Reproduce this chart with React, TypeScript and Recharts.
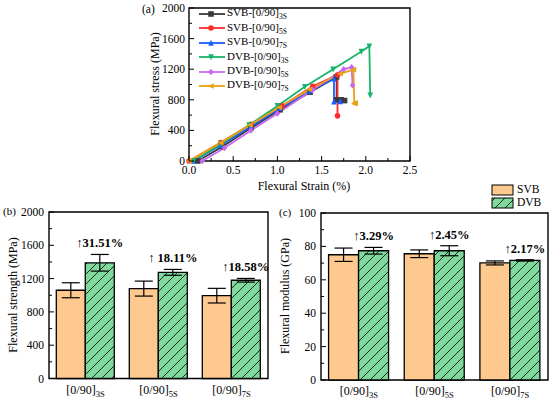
import React from "react";
import {
  Bar,
  BarChart,
  ErrorBar,
  LabelList,
  Line,
  LineChart,
  ReferenceArea,
  XAxis,
  YAxis,
} from "recharts";

const SERIF = '"Liberation Serif", "Times New Roman", serif';
const serif = { fontFamily: SERIF };

// (a) flexural stress–strain curves
const svb3sStrain = [0.1, 0.38, 0.7, 1.03, 1.37, 1.67, 1.67, 1.72, 1.76];
const svb3sStress = [0, 190, 430, 670, 900, 1100, 800, 800, 790];
const svb5sStrain = [0, 0.36, 0.7, 1.05, 1.4, 1.68, 1.68];
const svb5sStress = [0, 240, 480, 720, 975, 1125, 590];
const svb7sStrain = [0.05, 0.36, 0.7, 1.03, 1.37, 1.64, 1.64, 1.71];
const svb7sStress = [0, 205, 450, 690, 915, 1075, 775, 780];
const dvb3sStrain = [0.05, 0.36, 0.68, 1.0, 1.31, 1.63, 1.95, 2.04, 2.05];
const dvb3sStress = [0, 220, 470, 720, 970, 1200, 1430, 1500, 860];
const dvb5sStrain = [0.15, 0.4, 0.7, 1.0, 1.4, 1.75, 1.84, 1.85];
const dvb5sStress = [0, 170, 400, 620, 930, 1200, 1225, 990];
const dvb7sStrain = [0, 0.36, 0.69, 1.02, 1.36, 1.71, 1.86, 1.87, 1.88];
const dvb7sStress = [0, 240, 470, 700, 935, 1140, 1195, 750, 760];

const strainTicks = [0, 0.25, 0.5, 0.75, 1, 1.25, 1.5, 1.75, 2, 2.25, 2.5];
const stressTicks = [0, 200, 400, 600, 800, 1000, 1200, 1400, 1600, 1800, 2000];

// (b), (c) bar data
const layups = ["3S", "5S", "7S"];
const strengthSVB = [1060, 1080, 995];
const strengthSVBErr = [90, 90, 88];
const strengthDVB = [1390, 1275, 1180];
const strengthDVBErr = [100, 35, 22];
const strengthGain = ["↑31.51%", "↑ 18.11%", "↑18.58%"];
const modulusSVB = [75, 75.6, 70.1];
const modulusSVBErr = [4, 2.3, 1.2];
const modulusDVB = [77.4, 77.4, 71.6];
const modulusDVBErr = [2, 3, 0.4];
const modulusGain = ["↑3.29%", "↑2.45%", "↑2.17%"];
const strengthTicks = [0, 200, 400, 600, 800, 1000, 1200, 1400, 1600, 1800, 2000];
const modulusTicks = [0, 10, 20, 30, 40, 50, 60, 70, 80, 90, 100];

const zip = (xs: number[], ys: number[]) => xs.map((x, i) => ({ x, y: ys[i] }));

const curves = [
  { pre: "SVB-[0/90]", sub: "3S", color: "#3a3a3a", shape: "square", data: zip(svb3sStrain, svb3sStress) },
  { pre: "SVB-[0/90]", sub: "5S", color: "#ff2a2a", shape: "circle", data: zip(svb5sStrain, svb5sStress) },
  { pre: "SVB-[0/90]", sub: "7S", color: "#1a5cff", shape: "up", data: zip(svb7sStrain, svb7sStress) },
  { pre: "DVB-[0/90]", sub: "3S", color: "#17b46a", shape: "down", data: zip(dvb3sStrain, dvb3sStress) },
  { pre: "DVB-[0/90]", sub: "5S", color: "#c868f2", shape: "diamond", data: zip(dvb5sStrain, dvb5sStress) },
  { pre: "DVB-[0/90]", sub: "7S", color: "#e9a214", shape: "left", data: zip(dvb7sStrain, dvb7sStress) },
];

const strengthRows = layups.map((l, i) => ({
  layup: l,
  svb: strengthSVB[i],
  svbErr: strengthSVBErr[i],
  dvb: strengthDVB[i],
  dvbErr: strengthDVBErr[i],
  gain: strengthGain[i],
}));
const modulusRows = layups.map((l, i) => ({
  layup: l,
  svb: modulusSVB[i],
  svbErr: modulusSVBErr[i],
  dvb: modulusDVB[i],
  dvbErr: modulusDVBErr[i],
  gain: modulusGain[i],
}));

const ORANGE = "#fdc98f";
const GREEN = "#7fd99c";

function Marker({ shape, cx, cy, color }: { shape: string; cx: number; cy: number; color: string }) {
  const r = 2.8;
  switch (shape) {
    case "square":
      return <rect x={cx - r} y={cy - r} width={2 * r} height={2 * r} fill={color} />;
    case "circle":
      return <circle cx={cx} cy={cy} r={r} fill={color} />;
    case "up":
      return <polygon points={`${cx},${cy - r - 0.5} ${cx - r},${cy + r} ${cx + r},${cy + r}`} fill={color} />;
    case "down":
      return <polygon points={`${cx},${cy + r + 0.5} ${cx - r},${cy - r} ${cx + r},${cy - r}`} fill={color} />;
    case "diamond":
      return <polygon points={`${cx},${cy - r - 0.5} ${cx + r},${cy} ${cx},${cy + r + 0.5} ${cx - r},${cy}`} fill={color} />;
    default:
      return <polygon points={`${cx - r - 0.5},${cy} ${cx + r},${cy - r} ${cx + r},${cy + r}`} fill={color} />;
  }
}

// ticks point into the plot, Origin style; minor ticks have no label
function xNumTick(isMajor: (v: number) => boolean, fmt: (v: number) => string) {
  return (p: any) => {
    const v = p.payload.value;
    const maj = isMajor(v);
    return (
      <g>
        <line x1={p.x} x2={p.x} y1={p.y} y2={p.y - (maj ? 5 : 3)} stroke="#000" strokeWidth={1} />
        {maj && (
          <text x={p.x} y={p.y + 13} textAnchor="middle" fontSize={11.5} style={serif} fill="#000">
            {fmt(v)}
          </text>
        )}
      </g>
    );
  };
}

function yNumTick(isMajor: (v: number) => boolean, gap: number) {
  return (p: any) => {
    const v = p.payload.value;
    const maj = isMajor(v);
    return (
      <g>
        <line x1={p.x} x2={p.x + (maj ? 5 : 3)} y1={p.y} y2={p.y} stroke="#000" strokeWidth={1} />
        {maj && (
          <text x={p.x - gap} y={p.y + 4} textAnchor="end" fontSize={11.5} style={serif} fill="#000">
            {v}
          </text>
        )}
      </g>
    );
  };
}

const layupTick = (p: any) => (
  <text x={p.x} y={p.y + 15} textAnchor="middle" fontSize={12} style={serif} fill="#000">
    <tspan>[0/90]</tspan>
    <tspan fontSize={8.5} dy={3}>
      {p.payload.value}
    </tspan>
  </text>
);

function gainLabel(errs: number[], vals: number[]) {
  return (p: any) => {
    const i = p.index;
    const top = p.y - (errs[i] * p.height) / vals[i];
    return (
      <text
        x={p.x + p.width / 2}
        y={top - 7}
        textAnchor="middle"
        fontSize={12.5}
        fontWeight="bold"
        style={serif}
        fill="#000"
      >
        {p.value}
      </text>
    );
  };
}

function Hatch({ id }: { id: string }) {
  return (
    <defs>
      <pattern id={id} patternUnits="userSpaceOnUse" width={10} height={10}>
        <rect width={10} height={10} fill={GREEN} />
        <path d="M-2,2 L2,-2 M0,10 L10,0 M8,12 L12,8" stroke="#000" strokeWidth={0.8} />
      </pattern>
    </defs>
  );
}

function VLabel({ text, cx, cy }: { text: string; cx: number; cy: number }) {
  return (
    <div
      style={{
        position: "absolute",
        left: cx,
        top: cy,
        transform: "translate(-50%, -50%) rotate(-90deg)",
        whiteSpace: "nowrap",
        fontSize: 12,
        fontFamily: SERIF,
      }}
    >
      {text}
    </div>
  );
}

function Tag({ text, x, y, size = 12 }: { text: string; x: number; y: number; size?: number }) {
  return (
    <div style={{ position: "absolute", left: x, top: y, fontSize: size, fontFamily: SERIF, lineHeight: 1 }}>
      {text}
    </div>
  );
}

function BarPanel({
  rows,
  ticks,
  max,
  majorStep,
  errs,
  vals,
  hatchId,
  left,
  margin,
}: {
  rows: any[];
  ticks: number[];
  max: number;
  majorStep: number;
  errs: number[];
  vals: number[];
  hatchId: string;
  left: number;
  margin: { top: number; right: number; bottom: number; left: number };
}) {
  return (
    <div style={{ position: "absolute", left, top: 190 }}>
      <BarChart width={280} height={212} data={rows} margin={margin} barCategoryGap="10%" barGap={0}>
        <Hatch id={hatchId} />
        <XAxis dataKey="layup" axisLine={false} tickLine={false} tick={layupTick} height={20} tickSize={0} tickMargin={0} />
        <YAxis
          type="number"
          domain={[0, max]}
          ticks={ticks}
          width={40}
          axisLine={false}
          tickLine={false}
          tickSize={0}
          tickMargin={0}
          interval={0}
          tick={yNumTick((v) => v % majorStep === 0, 5)}
        />
        <Bar dataKey="svb" fill={ORANGE} stroke="#000" strokeWidth={1.3} isAnimationActive={false}>
          <ErrorBar dataKey="svbErr" width={9} stroke="#000" strokeWidth={1.2} direction="y" />
        </Bar>
        <Bar dataKey="dvb" fill={`url(#${hatchId})`} stroke="#000" strokeWidth={1.3} isAnimationActive={false}>
          <ErrorBar dataKey="dvbErr" width={9} stroke="#000" strokeWidth={1.2} direction="y" />
          <LabelList dataKey="gain" content={gainLabel(errs, vals)} />
        </Bar>
        <ReferenceArea y1={0} y2={max} fill="none" stroke="#000" strokeWidth={1.4} ifOverflow="visible" />
      </BarChart>
    </div>
  );
}

export default function App() {
  return (
    <div
      style={{
        position: "absolute",
        left: 0,
        top: 0,
        width: 550,
        height: 402,
        background: "#fff",
        fontFamily: SERIF,
        overflow: "hidden",
      }}
    >
      {/* (a) stress-strain */}
      <div style={{ position: "absolute", left: 0, top: 0 }}>
        <LineChart width={550} height={200} margin={{ top: 8, right: 140, bottom: 19, left: 149 }}>
          <XAxis
            type="number"
            dataKey="x"
            domain={[0, 2.5]}
            ticks={strainTicks}
            interval={0}
            height={20}
            axisLine={false}
            tickLine={false}
            tickSize={0}
            tickMargin={0}
            tick={xNumTick((v) => Math.abs(v * 2 - Math.round(v * 2)) < 1e-6, (v) => v.toFixed(1))}
          />
          <YAxis
            type="number"
            domain={[0, 2000]}
            ticks={stressTicks}
            interval={0}
            width={40}
            axisLine={false}
            tickLine={false}
            tickSize={0}
            tickMargin={0}
            tick={yNumTick((v) => v % 400 === 0, 4)}
          />
          {curves.map((c) => (
            <Line
              key={c.pre + c.sub}
              data={c.data}
              dataKey="y"
              type="linear"
              stroke={c.color}
              strokeWidth={1.8}
              isAnimationActive={false}
              dot={(p: any) => <Marker key={p.index} shape={c.shape} cx={p.cx} cy={p.cy} color={c.color} />}
            />
          ))}
          <ReferenceArea x1={0} x2={2.5} y1={0} y2={2000} fill="none" stroke="#000" strokeWidth={1.4} ifOverflow="visible" />
        </LineChart>
      </div>

      {/* legend (a) */}
      {curves.map((c, i) => (
        <div
          key={c.pre + c.sub}
          style={{ position: "absolute", left: 198, top: 14 + i * 14.4 - 7, height: 14, display: "flex", alignItems: "center" }}
        >
          <svg width={28} height={14}>
            <line x1={1} x2={27} y1={7} y2={7} stroke={c.color} strokeWidth={1.8} />
            <Marker shape={c.shape} cx={13} cy={7} color={c.color} />
          </svg>
          <span style={{ fontSize: 11, marginLeft: 1, whiteSpace: "nowrap" }}>
            {c.pre}
            <sub style={{ fontSize: 7.5 }}>{c.sub}</sub>
          </span>
        </div>
      ))}

      <Tag text="(a)" x={142} y={4} size={11.5} />
      <VLabel text="Flexural stress (MPa)" cx={155} cy={84} />
      <div style={{ position: "absolute", left: 304, top: 186, transform: "translate(-50%, -50%)", fontSize: 12, whiteSpace: "nowrap" }}>
        Flexural Strain (%)
      </div>

      {/* (b) strength */}
      <BarPanel
        rows={strengthRows}
        ticks={strengthTicks}
        max={2000}
        majorStep={400}
        errs={strengthDVBErr}
        vals={strengthDVB}
        hatchId="hatchB"
        left={0}
        margin={{ top: 22, right: 12, bottom: 3.5, left: 9 }}
      />
      <Tag text="(b)" x={3} y={206} size={11} />
      <VLabel text="Flexural strength (MPa)" cx={13} cy={295} />

      {/* (c) modulus */}
      <BarPanel
        rows={modulusRows}
        ticks={modulusTicks}
        max={100}
        majorStep={20}
        errs={modulusDVBErr}
        vals={modulusDVB}
        hatchId="hatchC"
        left={270}
        margin={{ top: 23, right: 2, bottom: 2, left: 11 }}
      />
      <Tag text="(c)" x={279} y={207} size={11} />
      <VLabel text="Flexural modulus (GPa)" cx={285} cy={296} />

      {/* legend (b)/(c) */}
      <svg style={{ position: "absolute", left: 490, top: 183 }} width={26} height={28}>
        <defs>
          <pattern id="hatchL" patternUnits="userSpaceOnUse" width={10} height={10}>
            <rect width={10} height={10} fill={GREEN} />
            <path d="M-2,2 L2,-2 M0,10 L10,0 M8,12 L12,8" stroke="#000" strokeWidth={0.8} />
          </pattern>
        </defs>
        <rect x={2} y={2} width={21} height={10} fill={ORANGE} stroke="#000" strokeWidth={1} />
        <rect x={2} y={15} width={21} height={10} fill="url(#hatchL)" stroke="#000" strokeWidth={1} />
      </svg>
      <Tag text="SVB" x={517} y={184} size={11.5} />
      <Tag text="DVB" x={517} y={197} size={11.5} />
    </div>
  );
}
